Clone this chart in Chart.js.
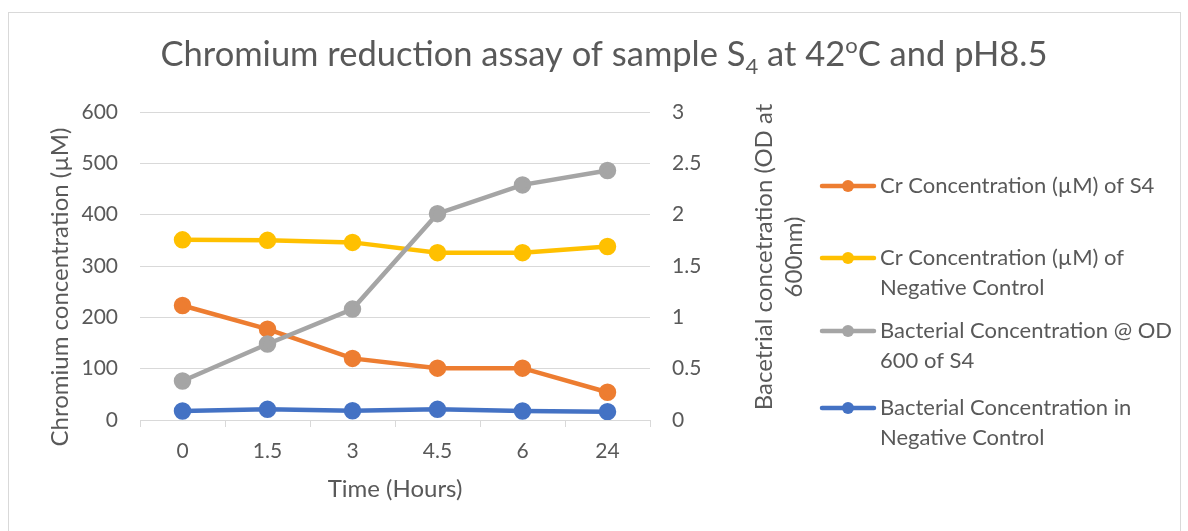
<!DOCTYPE html>
<html>
<head>
<meta charset="utf-8">
<script src="https://cdn.jsdelivr.net/npm/chart.js@4.4.1/dist/chart.umd.min.js"></script>
<style>
  html, body { margin: 0; padding: 0; background: #fff; }
  #wrap { position: relative; width: 1188px; height: 531px; }
</style>
</head>
<body>
<div id="wrap"><canvas id="chart" width="1188" height="531"></canvas></div>
<script>
// Tidspunkter (timer)
const times = ['0', '1.5', '3', '4.5', '6', '24'];

// Cr koncentration (µM) - venstre akse
const crS4 = [223, 177, 120, 101, 101, 54];
const crNegative = [351, 350, 346, 326, 326, 338];

// Bakteriel koncentration (OD 600) - højre akse
const odS4 = [0.38, 0.74, 1.08, 2.01, 2.29, 2.43];
const odNegative = [0.088, 0.104, 0.09, 0.104, 0.088, 0.081];

const seriesNames = [
    ['Cr Concentration (µM) of S4'],
    ['Cr Concentration (µM) of', 'Negative Control'],
    ['Bacterial Concentration @ OD', '600 of S4'],
    ['Bacterial Concentration in', 'Negative Control']
];

const FONT = 'Lato, "Open Sans", sans-serif';
const TEXT = '#595959';
const GRID = '#d9d9d9';

// Titel med sænket 4 og hævet o
const titlePlugin = {
    id: 'titlePlugin',
    afterDraw(chart) {
        const c = chart.ctx;
        const parts = [
            { t: 'Chromium reduction assay of sample S', s: 34.5, dy: 0 },
            { t: '4', s: 22, dy: 8 },
            { t: ' at 42', s: 34.5, dy: 0 },
            { t: 'o', s: 22, dy: -13 },
            { t: 'C and pH8.5', s: 34.5, dy: 0 }
        ];
        c.save();
        c.fillStyle = TEXT;
        c.textBaseline = 'alphabetic';
        let w = 0;
        parts.forEach(p => { c.font = p.s + 'px ' + FONT; w += c.measureText(p.t).width; });
        let x = 604 - w / 2;
        parts.forEach(p => {
            c.font = p.s + 'px ' + FONT;
            c.fillText(p.t, x, 66 + p.dy);
            x += c.measureText(p.t).width;
        });
        c.restore();
    }
};

// Aksetitler og ramme
const axisTitles = {
    id: 'axisTitles',
    afterDraw(chart) {
        const c = chart.ctx;
        const a = chart.chartArea;
        c.save();
        c.strokeStyle = GRID;
        c.lineWidth = 1;
        c.strokeRect(8.5, 12.5, 1172, 540);
        c.fillStyle = TEXT;
        c.font = '24px ' + FONT;
        c.textAlign = 'center';
        c.textBaseline = 'middle';
        c.fillText('Time (Hours)', (a.left + a.right) / 2, 489);

        c.save();
        c.translate(60, 287);
        c.rotate(-Math.PI / 2);
        c.fillText('Chromium concentration (µM)', 0, 0);
        c.restore();

        c.save();
        c.translate(764, 257);
        c.rotate(-Math.PI / 2);
        c.fillText('Bacetrial concetration (OD at', 0, 0);
        c.fillText('600nm)', 0, 30);
        c.restore();
        c.restore();
    }
};

// Forklaring til højre
const legendPlugin = {
    id: 'legendPlugin',
    afterDraw(chart) {
        const c = chart.ctx;
        const rows = [186, 258, 331, 408];
        c.save();
        c.font = '22px ' + FONT;
        c.textBaseline = 'middle';
        chart.data.datasets.forEach((ds, i) => {
            const y = rows[i];
            c.strokeStyle = ds.borderColor;
            c.lineWidth = 4.5;
            c.lineCap = 'round';
            c.beginPath();
            c.moveTo(822, y);
            c.lineTo(874, y);
            c.stroke();
            c.fillStyle = ds.borderColor;
            c.beginPath();
            c.arc(848, y, 6, 0, Math.PI * 2);
            c.fill();
            c.fillStyle = TEXT;
            seriesNames[i].forEach((line, j) => c.fillText(line, 880, y + j * 30));
        });
        c.restore();
    }
};

function lineSet(label, data, color, axis, order) {
    return {
        label: label,
        data: data,
        borderColor: color,
        backgroundColor: color,
        borderWidth: 4.5,
        pointRadius: 6.5,
        pointHoverRadius: 6.5,
        yAxisID: axis,
        order: order
    };
}

new Chart(document.querySelector('#chart'), {
    type: 'line',
    data: {
        labels: times,
        datasets: [
            lineSet(seriesNames[0].join(' '), crS4, '#ED7D31', 'y', 4),
            lineSet(seriesNames[1].join(' '), crNegative, '#FFC000', 'y', 3),
            lineSet(seriesNames[2].join(' '), odS4, '#A5A5A5', 'y1', 2),
            lineSet(seriesNames[3].join(' '), odNegative, '#4472C4', 'y1', 1)
        ]
    },
    options: {
        responsive: false,
        animation: false,
        layout: {
            padding: { top: 112, left: 0, right: 388, bottom: 0 }
        },
        scales: {
            x: {
                offset: true,
                grid: {
                    offset: true,
                    drawOnChartArea: false,
                    tickLength: 7,
                    color: GRID
                },
                border: { color: GRID },
                ticks: { color: TEXT, font: { family: FONT, size: 21 }, padding: 12 },
                afterFit(scale) { scale.height = 111; }
            },
            y: {
                position: 'left',
                min: 0,
                max: 600,
                ticks: { stepSize: 100, color: TEXT, font: { family: FONT, size: 21 }, padding: 22 },
                grid: { color: GRID, drawTicks: false },
                border: { display: false },
                afterFit(scale) { scale.width = 140; }
            },
            y1: {
                position: 'right',
                min: 0,
                max: 3,
                ticks: {
                    stepSize: 0.5,
                    color: TEXT,
                    font: { family: FONT, size: 21 },
                    padding: 22,
                    callback: value => String(value)
                },
                grid: { drawOnChartArea: false, drawTicks: false },
                border: { display: false },
                afterFit(scale) { scale.width = 150; }
            }
        },
        plugins: {
            legend: { display: false },
            title: { display: false },
            tooltip: { enabled: true }
        }
    },
    plugins: [titlePlugin, axisTitles, legendPlugin]
});
</script>
</body>
</html>
